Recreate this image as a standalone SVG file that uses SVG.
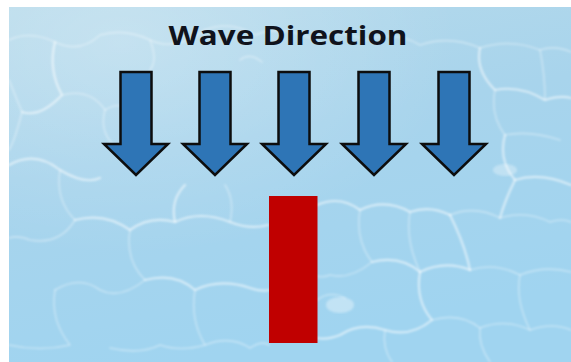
<svg xmlns="http://www.w3.org/2000/svg" width="571" height="362" viewBox="0 0 571 362">
<defs>
<style>
.arrow{fill:#2E75B6;stroke:#0d0d0d;stroke-width:2.5;stroke-linejoin:miter}
.caustic{fill:none;stroke:#ffffff;stroke-linecap:round;stroke-linejoin:round}
.c1{stroke-opacity:0.55;stroke-width:2.2}
.c2{stroke-opacity:0.35;stroke-width:1.6}
.title{font-family:"Open Sans","Noto Sans","Liberation Sans",sans-serif;font-weight:bold;font-size:27px;fill:#10131c}
</style>
<linearGradient id="water" x1="0" y1="0" x2="0.3" y2="1">
<stop offset="0" stop-color="#b6daeb"/>
<stop offset="0.45" stop-color="#a8d4ec"/>
<stop offset="1" stop-color="#a0d4f0"/>
</linearGradient>
<radialGradient id="glow" cx="0.2" cy="0.1" r="0.6">
<stop offset="0" stop-color="#ffffff" stop-opacity="0.25"/>
<stop offset="1" stop-color="#ffffff" stop-opacity="0"/>
</radialGradient>
<filter id="soft" x="-5%" y="-5%" width="110%" height="110%"><feGaussianBlur stdDeviation="1"/></filter>
<path id="arr" d="M-15.5,72 H15.5 V144 H32 L0,175 L-32,144 H-15.5 Z"/>
</defs>
<g id="background">
<rect x="0" y="0" width="571" height="362" fill="#ffffff"/>
<rect x="9" y="7" width="562" height="355" fill="url(#water)"/>
<rect x="9" y="7" width="562" height="355" fill="url(#glow)"/>
<g class="caustic" filter="url(#soft)">
<path class="c2" d="M9,40 Q30,30 55,42 T100,35 Q125,28 150,40 T205,30"/>
<path class="c1" d="M55,42 Q48,70 62,95 Q40,118 22,112"/>
<path class="c2" d="M62,95 Q90,88 105,110 Q98,135 120,150"/>
<path class="c1" d="M9,165 Q35,150 60,170 Q85,185 100,178"/>
<path class="c2" d="M60,170 Q55,200 75,220 Q60,245 30,240 Q18,235 9,238"/>
<path class="c1" d="M75,220 Q105,212 130,230 Q150,215 175,222 Q200,210 230,222 Q250,230 268,225"/>
<path class="c2" d="M130,230 Q125,260 145,280 Q120,300 100,290 Q80,275 55,290"/>
<path class="c1" d="M145,280 Q175,272 195,290 Q220,278 250,288 Q262,292 269,290"/>
<path class="c2" d="M195,290 Q190,320 205,345 Q180,352 160,345 Q140,355 110,348"/>
<path class="c2" d="M55,290 Q50,320 70,345 Q40,352 9,345"/>
<path class="c1" d="M175,222 Q170,200 185,185"/>
<path class="c2" d="M230,222 Q235,200 225,185"/>
<path class="c2" d="M205,345 Q230,335 250,348 Q262,340 269,345"/>
<path class="c2" d="M150,40 Q158,60 150,70"/>
<path class="c2" d="M205,30 Q230,20 255,35 Q280,25 310,38 Q340,28 365,40"/>
<path class="c2" d="M240,60 Q250,52 262,62"/>
<path class="c2" d="M365,40 Q395,30 420,45 Q450,35 480,48 Q510,38 540,50 Q555,45 571,52"/>
<path class="c1" d="M480,48 Q475,70 495,90 Q520,85 545,100 Q560,95 571,98"/>
<path class="c2" d="M495,90 Q490,115 505,135 Q530,130 560,140"/>
<path class="c1" d="M505,135 Q498,160 515,180 Q540,172 571,185"/>
<path class="c1" d="M317,205 Q340,195 360,210 Q385,198 410,212 Q430,205 450,215"/>
<path class="c2" d="M450,215 Q475,205 500,218 Q525,210 550,222 Q562,218 571,222"/>
<path class="c1" d="M515,180 Q505,200 500,218"/>
<path class="c2" d="M360,210 Q355,240 372,262 Q350,280 330,275 Q322,278 317,276"/>
<path class="c1" d="M372,262 Q400,255 420,272 Q445,260 470,270"/>
<path class="c2" d="M410,212 Q405,240 420,272"/>
<path class="c1" d="M470,270 Q465,245 450,215"/>
<path class="c2" d="M470,270 Q495,262 520,275 Q545,265 571,272"/>
<path class="c1" d="M420,272 Q415,300 432,320 Q410,338 385,330 Q360,322 340,335 Q328,340 317,338"/>
<path class="c2" d="M432,320 Q460,312 480,328 Q505,318 530,330 Q552,322 571,330"/>
<path class="c2" d="M520,275 Q515,300 530,330"/>
<path class="c2" d="M480,328 Q478,345 490,362"/>
<path class="c2" d="M385,330 Q382,348 392,362"/>
<path class="c2" d="M9,80 Q15,95 22,112 Q15,140 9,150"/>
<path class="c2" d="M105,110 Q120,100 135,112"/>
<path class="c2" d="M540,50 Q545,75 545,100"/>
<path class="c2" d="M317,300 Q330,290 345,298"/>
</g>
<ellipse cx="340" cy="305" rx="14" ry="8" fill="#ffffff" opacity="0.35" filter="url(#soft)"/>
<ellipse cx="505" cy="170" rx="12" ry="6" fill="#ffffff" opacity="0.3" filter="url(#soft)"/>
</g>
<g id="title">
<text class="title" x="288" y="45" text-anchor="middle" textLength="239" lengthAdjust="spacingAndGlyphs">Wave Direction</text>
</g>
<g id="connectors">
<use id="arrow1" href="#arr" class="arrow" transform="translate(136,0)"/>
<use id="arrow2" href="#arr" class="arrow" transform="translate(215,0)"/>
<use id="arrow3" href="#arr" class="arrow" transform="translate(294,0)"/>
<use id="arrow4" href="#arr" class="arrow" transform="translate(374,0)"/>
<use id="arrow5" href="#arr" class="arrow" transform="translate(454,0)"/>
</g>
<g id="pier">
<rect x="269" y="196" width="48.5" height="147" fill="#C00000"/>
</g>
</svg>
